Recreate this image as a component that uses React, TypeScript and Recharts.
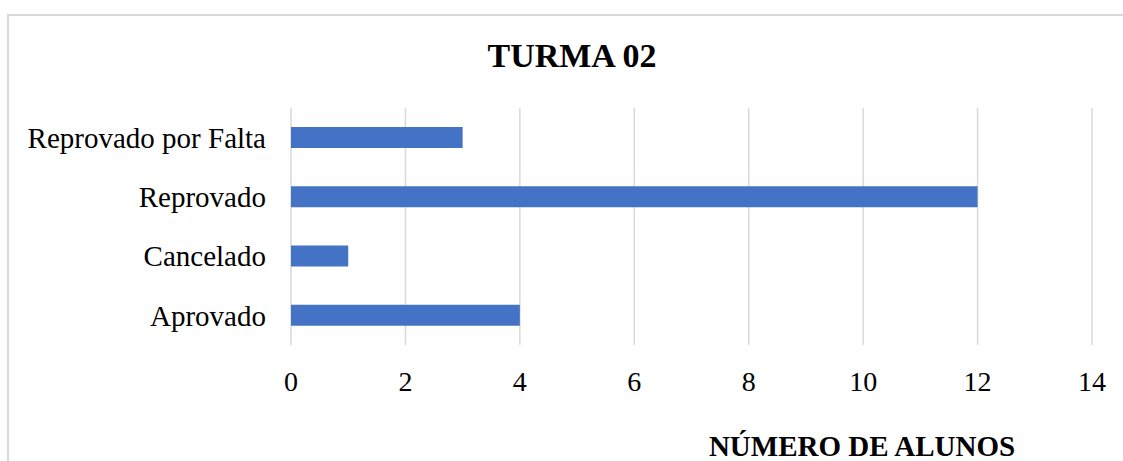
import React from 'react';
import { BarChart, Bar, XAxis, YAxis, CartesianGrid } from 'recharts';

const categories = ['Reprovado por Falta', 'Reprovado', 'Cancelado', 'Aprovado'];
const alunos = [3, 12, 1, 4];
const xTicks = [0, 2, 4, 6, 8, 10, 12, 14];
const title = 'TURMA 02';
const xLabel = 'NÚMERO DE ALUNOS';

const data = categories.map((c, i) => ({ name: c, value: alunos[i] }));

const FONT = '"Liberation Serif", "Times New Roman", serif';

export default function App() {
  return (
    <div style={{ position: 'fixed', left: 0, top: 0, width: 1123, height: 461, overflow: 'hidden', background: '#fff' }}>
      <div
        style={{
          position: 'absolute',
          left: 7,
          top: 14,
          width: 1300,
          height: 600,
          border: '2px solid #d9d9d9',
          boxSizing: 'border-box',
        }}
      />
      <div style={{ position: 'absolute', left: 0, top: 0 }}>
        <BarChart
          width={1123}
          height={461}
          data={data}
          layout="vertical"
          margin={{ top: 108, right: 31, bottom: 0, left: 0 }}
          barCategoryGap={0}
        >
          <CartesianGrid horizontal={false} stroke="#d9d9d9" strokeWidth={1.5} />
          <XAxis
            type="number"
            domain={[0, 14]}
            ticks={xTicks}
            interval={0}
            axisLine={false}
            tickLine={false}
            tickSize={0}
            tickMargin={26}
            height={116}
            tick={{ fill: '#000', fontSize: 28, fontFamily: FONT }}
          />
          <YAxis
            type="category"
            dataKey="name"
            width={291}
            axisLine={false}
            tickLine={false}
            tickSize={0}
            tickMargin={25}
            interval={0}
            tick={{ fill: '#000', fontSize: 29, fontFamily: FONT }}
          />
          <Bar dataKey="value" fill="#4472C4" barSize={21} isAnimationActive={false} />
        </BarChart>
      </div>
      <svg width={1123} height={461} style={{ position: 'absolute', left: 0, top: 0, pointerEvents: 'none' }}>
        <text x={572} y={67} textAnchor="middle" fontFamily={FONT} fontWeight="bold" fontSize={34} fill="#000">
          {title}
        </text>
        <text x={862} y={456} textAnchor="middle" fontFamily={FONT} fontWeight="bold" fontSize={29} fill="#000">
          {xLabel}
        </text>
      </svg>
    </div>
  );
}
